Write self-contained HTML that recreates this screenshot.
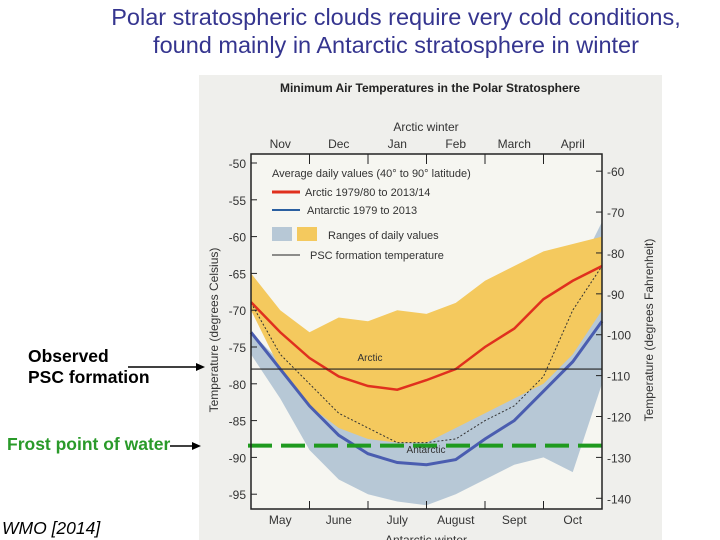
<!DOCTYPE html>
<html><head><meta charset="utf-8"><style>
body{margin:0;width:720px;height:540px;background:#fff;overflow:hidden;font-family:"Liberation Sans",sans-serif;position:relative}
.t{position:absolute}
</style></head><body>
<div class="t" style="left:0px;top:3px;width:792px;text-align:center;font-size:23.5px;line-height:28px;color:#35358f">Polar stratospheric clouds require very cold conditions,<br>found mainly in Antarctic stratosphere in winter</div>
<svg id="c" width="720" height="540" style="position:absolute;left:0;top:0" font-family="Liberation Sans, sans-serif"></svg>
<div class="t" style="left:28px;top:346px;font-size:17.5px;font-weight:bold;line-height:21px">Observed<br>PSC formation</div>
<div class="t" style="left:7px;top:434px;font-size:17.5px;font-weight:bold;color:#2a9a2a">Frost point of water</div>
<div class="t" style="left:2px;top:518px;font-size:17.5px;font-style:italic">WMO [2014]</div>
<script>
const days=[0,15,30,45,60,75,90,105,120,135,150,165,180];
const arcticMean=[-68.9,-73,-76.5,-79,-80.3,-80.8,-79.5,-78,-75,-72.5,-68.5,-66,-64];
const arcticMax=[-65,-70,-73,-71,-71.5,-70,-70.5,-69,-66,-64,-62,-61,-60];
const arcticMin=[-70,-78,-83,-86,-87.5,-88,-88,-86,-84,-82,-80,-76,-70];
const antMean=[-73,-78,-83,-87,-89.5,-90.7,-91,-90.3,-87.5,-85,-81,-77,-71.5];
const antMax=[-73,-77,-80,-82,-85,-86,-86,-84,-82,-80,-77,-66,-58];
const antMin=[-76,-82,-89,-93,-95,-96,-96.5,-95,-93,-91,-90,-92,-80];
const antLow=[-69,-76,-80,-84,-86,-88,-88,-87.5,-85,-83,-79,-70,-64];
const cTicks=[-50,-55,-60,-65,-70,-75,-80,-85,-90,-95];
const fTicks=[-60,-70,-80,-90,-100,-110,-120,-130,-140];
const topMonths=["Nov","Dec","Jan","Feb","March","April"];
const botMonths=["May","June","July","August","Sept","Oct"];
const pscTemp=-78, frostPoint=-88.4;
const L=251,R=602,T=154,B=509;
const x=d=>L+(R-L)*d/180;
const y=c=>163+(-50-c)*7.36;
const yF=f=>y((f-32)*5/9);
const svg=document.getElementById('c');
function el(tag,a,txt){const e=document.createElementNS('http://www.w3.org/2000/svg',tag);for(const k in a)e.setAttribute(k,a[k]);if(txt!=null)e.textContent=txt;svg.appendChild(e);return e;}
let e;
e=el('rect',{x:199,y:75,width:463,height:465,fill:'#efefec'});
e=el('rect',{x:L,y:T,width:R-L,height:B-T,fill:'#f6f6f1'});
e=el('text',{x:430,y:92,'text-anchor':'middle','font-size':12,'font-weight':'bold',fill:'#222'},'Minimum Air Temperatures in the Polar Stratosphere');
function band(hi,lo,fill,name){let p=days.map((d,i)=>x(d)+','+y(hi[i])).join(' ')+' '+days.map((d,i)=>x(d)+','+y(lo[i])).reverse().join(' ');const e=el('polygon',{points:p,fill:fill});}
band(antMax,antMin,'#b7c8d6','antarctic-range');
band(arcticMax,arcticMin,'#f4c95e','arctic-range');
function line(v,st,w,name,dash){const a={points:days.map((d,i)=>x(d)+','+y(v[i])).join(' '),fill:'none',stroke:st,'stroke-width':w};if(dash)a['stroke-dasharray']=dash;const e=el('polyline',a);}
line(antLow,'#333',1,'psc-observed-dotted','2,2');
line(arcticMean,'#e0301e',2.5,'arctic-mean-line');
line(antMean,'#4a5db0',3,'antarctic-mean-line');
e=el('line',{x1:L,x2:R,y1:y(pscTemp),y2:y(pscTemp),stroke:'#222','stroke-width':1.2});
e=el('line',{x1:248,x2:602,y1:y(frostPoint),y2:y(frostPoint),stroke:'#1f9a1f','stroke-width':4,'stroke-dasharray':'24,9'});
e=el('text',{x:370,y:361,'font-size':10,fill:'#333','text-anchor':'middle'},'Arctic');
e=el('text',{x:426,y:453,'font-size':10,fill:'#333','text-anchor':'middle'},'Antarctic');
e=el('rect',{x:L,y:T,width:R-L,height:B-T,fill:'none',stroke:'#222','stroke-width':1.5});
cTicks.forEach(c=>{e=el('text',{x:246,y:y(c)+5,'font-size':12,'text-anchor':'end',fill:'#333'},String(c));
e=el('line',{x1:L,x2:L+6,y1:y(c),y2:y(c),stroke:'#222'});});
fTicks.forEach(f=>{e=el('text',{x:607,y:yF(f)+5,'font-size':12,fill:'#333'},String(f));
e=el('line',{x1:R-6,x2:R,y1:yF(f),y2:yF(f),stroke:'#222'});});
for(let k=0;k<6;k++){const xm=x(k*30+15);
e=el('text',{x:xm,y:148,'font-size':12,'text-anchor':'middle',fill:'#333'},topMonths[k]);
e=el('text',{x:xm,y:524,'font-size':12,'text-anchor':'middle',fill:'#333'},botMonths[k]);
e=el('line',{x1:x(k*30),x2:x(k*30),y1:T,y2:T+10,stroke:'#222'});
e=el('line',{x1:x(k*30),x2:x(k*30),y1:B,y2:B-8,stroke:'#222'});}
e=el('text',{x:426,y:131,'font-size':12,'text-anchor':'middle',fill:'#333'},'Arctic winter');
e=el('text',{x:426,y:544,'font-size':12,'text-anchor':'middle',fill:'#333'},'Antarctic winter');
e=el('text',{transform:'translate(218,330) rotate(-90)','font-size':12,'text-anchor':'middle',fill:'#333'},'Temperature (degrees Celsius)');
e=el('text',{transform:'translate(653,330) rotate(-90)','font-size':12,'text-anchor':'middle',fill:'#333'},'Temperature (degrees Fahrenheit)');
e=el('text',{x:272,y:177,'font-size':11,fill:'#333'},'Average daily values  (40° to 90° latitude)');
e=el('line',{x1:272,x2:300,y1:192,y2:192,stroke:'#e0301e','stroke-width':3});
e=el('text',{x:305,y:196,'font-size':11,fill:'#333'},'Arctic 1979/80 to 2013/14');
e=el('line',{x1:272,x2:300,y1:210,y2:210,stroke:'#2a5fa0','stroke-width':2});
e=el('text',{x:307,y:214,'font-size':11,fill:'#333'},'Antarctic 1979 to 2013');
e=el('rect',{x:272,y:227,width:20,height:14,fill:'#b7c8d6'});
e=el('rect',{x:297,y:227,width:20,height:14,fill:'#f4c95e'});
e=el('text',{x:328,y:239,'font-size':11,fill:'#333'},'Ranges of daily values');
e=el('line',{x1:272,x2:300,y1:255,y2:255,stroke:'#222','stroke-width':1});
e=el('text',{x:310,y:259,'font-size':11,fill:'#333'},'PSC formation temperature');
e=el('line',{x1:128,x2:198,y1:367,y2:367,stroke:'#000','stroke-width':1.5});
e=el('polygon',{points:'205,367 196,363 196,371',fill:'#000'});
e=el('line',{x1:170,x2:194,y1:446,y2:446,stroke:'#000','stroke-width':1.5});
e=el('polygon',{points:'201,446 192,442 192,450',fill:'#000'});
</script>
</body></html>
